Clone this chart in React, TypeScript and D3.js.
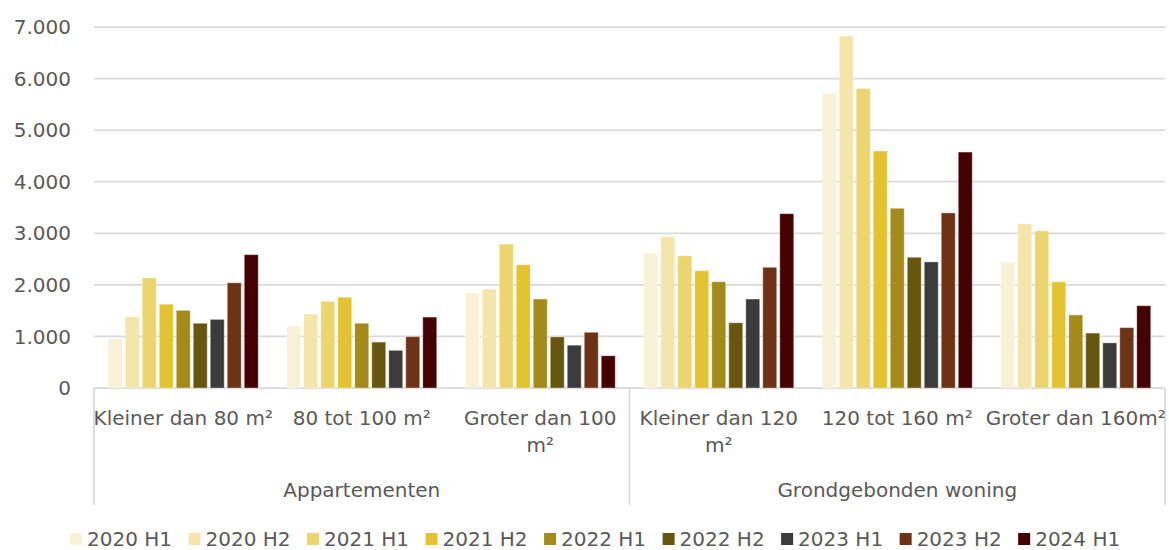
import React from "react";
import * as d3 from "d3";

// categories on the x axis (first level) and their wrapped label lines
const categories = [
  "Kleiner dan 80 m²",
  "80 tot 100 m²",
  "Groter dan 100 m²",
  "Kleiner dan 120 m²",
  "120 tot 160 m²",
  "Groter dan 160m²",
];
const categoryLines = [
  ["Kleiner dan 80 m²"],
  ["80 tot 100 m²"],
  ["Groter dan 100", "m²"],
  ["Kleiner dan 120", "m²"],
  ["120 tot 160 m²"],
  ["Groter dan 160m²"],
];
// second level of the axis
const groups = ["Appartementen", "Grondgebonden woning"];
const groupSize = 3;

const series = [
  "2020 H1",
  "2020 H2",
  "2021 H1",
  "2021 H2",
  "2022 H1",
  "2022 H2",
  "2023 H1",
  "2023 H2",
  "2024 H1",
];
const colors = [
  "#F8F1D6",
  "#F4E6AA",
  "#ECD56E",
  "#E3C430",
  "#A48A18",
  "#68560E",
  "#3B3B3B",
  "#6E3214",
  "#460000",
];

// values per series, one per category
const v2020H1 = [960, 1200, 1840, 2620, 5710, 2440];
const v2020H2 = [1380, 1435, 1915, 2935, 6825, 3185];
const v2021H1 = [2135, 1680, 2790, 2565, 5805, 3045];
const v2021H2 = [1625, 1760, 2390, 2275, 4595, 2060];
const v2022H1 = [1505, 1255, 1725, 2060, 3485, 1415];
const v2022H2 = [1255, 890, 990, 1265, 2535, 1065];
const v2023H1 = [1330, 730, 830, 1725, 2445, 875];
const v2023H2 = [2040, 995, 1080, 2340, 3395, 1170];
const v2024H1 = [2585, 1375, 625, 3380, 4575, 1595];
const values = [v2020H1, v2020H2, v2021H1, v2021H2, v2022H1, v2022H2, v2023H1, v2023H2, v2024H1];

const yTicks = [0, 1000, 2000, 3000, 4000, 5000, 6000, 7000];

const W = 1169;
const H = 550;
const FONT = "'DejaVu Sans', sans-serif";
const TEXT = "#595959";
const GRID = "#D9D9D9";

const nl = d3.formatLocale({ decimal: ",", thousands: ".", grouping: [3], currency: ["€", ""] });
const fmt = nl.format(",.0f");

function textWidth(s: string) {
  const c = document.createElement("canvas").getContext("2d")!;
  c.font = `20px ${FONT}`;
  return c.measureText(s).width;
}

export default function App() {
  const x0 = d3.scaleBand<string>().domain(categories).range([94, 1165]);
  const x1 = d3
    .scaleBand<string>()
    .domain(series)
    .range([0, x0.bandwidth()])
    .paddingInner(0.18)
    .paddingOuter(0.84);
  const y = d3.scaleLinear().domain([0, 7000]).range([388, 27]);

  // legend layout from measured text
  let lx = 70;
  const legend = series.map((s, i) => {
    const item = { s, x: lx, color: colors[i] };
    lx += 17 + textWidth(s) + 16.5;
    return item;
  });

  const groupEdges = groups.map((_, g) => x0(categories[g * groupSize])!).concat([1165]);

  return (
    <svg
      width={W}
      height={H}
      style={{ position: "absolute", left: 0, top: 0, background: "#fff" }}
      fontFamily={FONT}
      fontSize={20}
      fill={TEXT}
    >
      {/* gridlines */}
      {yTicks.map((t) => (
        <line key={t} x1={94} x2={1165} y1={y(t)} y2={y(t)} stroke={GRID} strokeWidth={1.75} />
      ))}
      {/* y labels */}
      {yTicks.map((t) => (
        <text key={"l" + t} x={71} y={y(t)} dy="0.36em" textAnchor="end">
          {fmt(t)}
        </text>
      ))}
      {/* bars */}
      {categories.map((c, ci) => (
        <g key={c} transform={`translate(${x0(c)},0)`}>
          {series.map((s, si) => (
            <rect
              key={s}
              x={x1(s)}
              y={y(values[si][ci])}
              width={x1.bandwidth()}
              height={y(0) - y(values[si][ci])}
              fill={colors[si]}
              stroke="#ffffff"
              strokeOpacity={0.35}
              strokeWidth={1}
            />
          ))}
        </g>
      ))}
      {/* category axis separators */}
      {groupEdges.map((gx, i) => (
        <line key={"s" + i} x1={gx} x2={gx} y1={388} y2={505} stroke={GRID} strokeWidth={1.75} />
      ))}
      {/* category labels */}
      {categories.map((c, ci) => (
        <text key={"c" + c} x={x0(c)! + x0.bandwidth() / 2} y={425} textAnchor="middle">
          {categoryLines[ci].map((ln, li) => (
            <tspan key={li} x={x0(c)! + x0.bandwidth() / 2} dy={li === 0 ? 0 : 27}>
              {ln}
            </tspan>
          ))}
        </text>
      ))}
      {/* group labels */}
      {groups.map((g, gi) => (
        <text key={g} x={(groupEdges[gi] + groupEdges[gi + 1]) / 2} y={497} textAnchor="middle">
          {g}
        </text>
      ))}
      {/* legend */}
      {legend.map((l) => (
        <g key={l.s}>
          <rect x={l.x} y={533} width={12} height={12} fill={l.color} />
          <text x={l.x + 17} y={545.5}>
            {l.s}
          </text>
        </g>
      ))}
    </svg>
  );
}
